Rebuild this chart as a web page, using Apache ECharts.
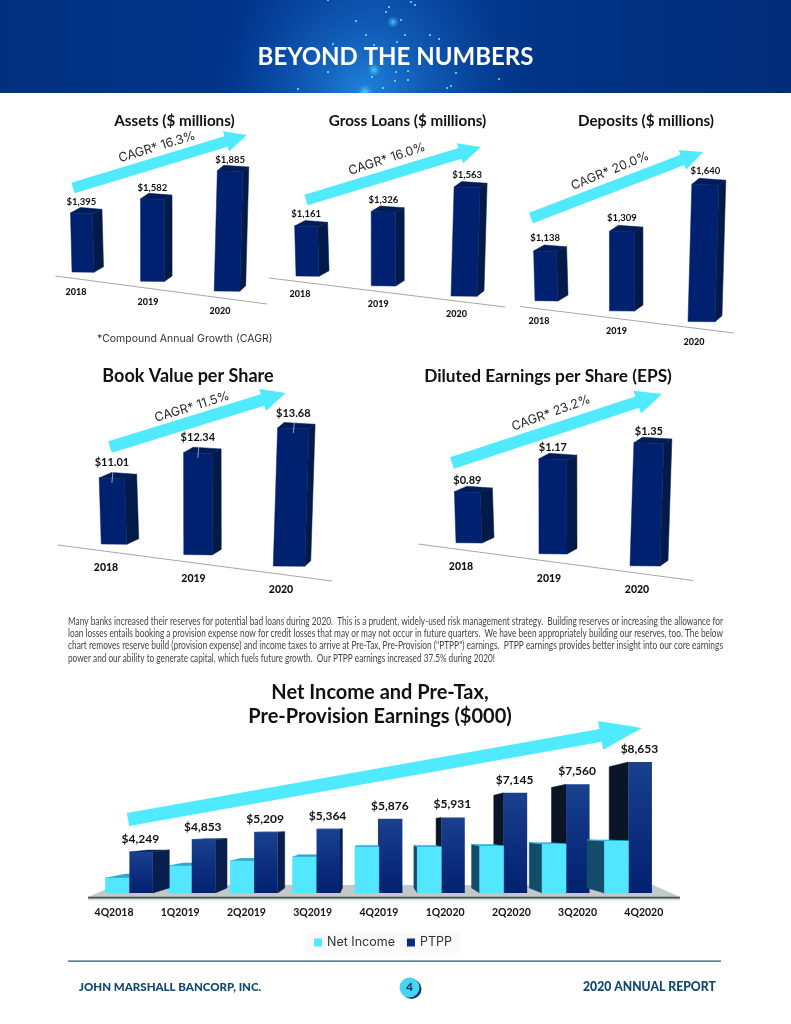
<!DOCTYPE html>
<html><head><meta charset="utf-8">
<style>html,body{margin:0;padding:0;background:#fff}#c{width:791px;height:1024px}</style>
<script src="https://cdn.jsdelivr.net/npm/echarts@6/dist/echarts.min.js"></script>
</head><body><div id="c"></div>
<script>
// ---------- data ----------
const years = ['2018','2019','2020'];
const assets = [1395,1582,1885];
const grossLoans = [1161,1326,1563];
const deposits = [1138,1309,1640];
const bookValue = [11.01,12.34,13.68];
const dilutedEps = [0.89,1.17,1.35];
const quarters = ['4Q2018','1Q2019','2Q2019','3Q2019','4Q2019','1Q2020','2Q2020','3Q2020','4Q2020'];
const netIncome = [2977,3564,3809,4004,4494,4494,4542,4640,4787];
const ptpp = [4249,4853,5209,5364,5876,5931,7145,7560,8653];
const cagrLabels = ['CAGR* 16.3%','CAGR* 16.0%','CAGR* 20.0%','CAGR* 11.5%','CAGR* 23.2%'];
const paragraph = [
 'Many banks increased their reserves for potential bad loans during 2020.  This is a prudent, widely-used risk management strategy.  Building reserves or increasing the allowance for',
 'loan losses entails booking a provision expense now for credit losses that may or may not occur in future quarters.  We have been appropriately building our reserves, too. The below',
 'chart removes reserve build (provision expense) and income taxes to arrive at Pre-Tax, Pre-Provision ("PTPP") earnings.  PTPP earnings provides better insight into our core earnings',
 'power and our ability to generate capital, which fuels future growth.  Our PTPP earnings increased 37.5% during 2020!'
];

// ---------- layout ----------
const FONT = 'Lato';
const NAVY = {front:'#00216F', side:'#021A48', top:'#011D58'};
const CYAN = '#50EAFF';
const dollars = v => '$' + v.toLocaleString('en-US');
const cents = v => '$' + v.toFixed(2);
const panels = [
 {name:'Assets ($ millions)', titleX:174.5, titleY:121, titleSize:15.2, values:assets, fmt:dollars, L:47, W:216, bottom:272, min:923, scale:.125, tilt:.132, bend:-2.5, w:[22,1.8], dx:[9.5,1.8], dy:5.5, gap:6, shift:14, axisFont:9, valFont:9.5, labelUp:11,
  line:[55.5,276,267,304], arrow:[73,188,247,135,11,21,22], cagr:[157,147,17]},
 {name:'Gross Loans ($ millions)', titleX:407.5, titleY:121, titleSize:15.2, values:grossLoans, fmt:dollars, L:268.4, W:234.75, bottom:276, min:821, scale:.147, tilt:.128, bend:-2.25, w:[23,1.5], dx:[10,1.5], dy:5.5, gap:4, shift:15, axisFont:9, valFont:9.5, labelUp:12,
  line:[269,278,505,307], arrow:[306,200,481,147,11,21,22], cagr:[387,159,18]},
 {name:'Deposits ($ millions)', titleX:646, titleY:121, titleSize:15.2, values:deposits, fmt:dollars, L:507.75, W:232.5, bottom:300.7, min:852, scale:.174, tilt:.134, bend:-2, w:[23,2], dx:[10,1.5], dy:6, gap:6, shift:15, axisFont:9, valFont:9.5, labelUp:13,
  line:[520,306.5,734,333], arrow:[531,218,703,152,11,21,22], cagr:[610,171,22]},
 {name:'Book Value per Share', titleX:188, titleY:376, titleSize:18, values:bookValue, fmt:cents, L:70.25, W:262.5, bottom:544, min:8.56, scale:26.97, tilt:.126, bend:-3.5, w:[25.5,3], dx:[12,3], dy:5.5, gap:8, shift:16, axisFont:10.5, valFont:11, labelUp:15, leader:true,
  line:[58,545,332,581], arrow:[110,447,285.5,393,12,23,24], cagr:[192,407,17]},
 {name:'Diluted Earnings per Share (EPS)', titleX:548, titleY:376, titleSize:17.3, values:dilutedEps, fmt:cents, L:425, W:264, bottom:542.7, min:.564, scale:156.5, tilt:.131, bend:-4, w:[26,2], dx:[12,2], dy:5.5, gap:8.5, shift:16, axisFont:10.5, valFont:11, labelUp:11,
  line:[418,544,693,580.5], arrow:[452,463,662,394,12,24,26], cagr:[551,413,20]}
];
const paragraphWidths = [655,655,655,427];
const GRID_H = 140;
const LEAN = .00036;

const bottomGrid = {L:80.9, W:596, bottom:893, min:2243, scale:.02044};
const VP = {x:372, y:826, k:.075, squeeze:.942, center:379, niW:24, ptW:23.5};

// ---------- render functions ----------
const poly = (pts, fill, z2) => ({type:'polygon', z2:z2||0, silent:true, shape:{points:pts},
  style:{fill, stroke:typeof fill==='string'?fill:null, lineWidth:typeof fill==='string'?.5:0}});

function panelRender(p){
  return function(params, api){
    const i = api.value(0), v = api.value(1);
    const base = api.coord([i, p.min]), top = api.coord([i, v]);
    const first = api.coord([0, p.min])[0], mid = api.coord([1, p.min])[0];
    const cx = base[0] + p.bend*(1-(i-1)*(i-1));
    const by = p.bottom + p.tilt*(cx-first);
    const h = base[1]-top[1];
    const tx = cx + LEAN*(cx-mid)*h;
    const w = p.w[0]+p.w[1]*i, dx = p.dx[0]-p.dx[1]*i, dy = p.dy;
    const FL=[tx-w/2,by-h], FR=[tx+w/2,by-h+.8], BR=[cx+w/2,by+.3], BL=[cx-w/2,by];
    const children = [
      poly([FR,[FR[0]+dx,FR[1]-dy+1],[BR[0]+dx,BR[1]-dy],BR], NAVY.side),
      poly([FL,FR,[FR[0]+dx,FR[1]-dy+1],[FL[0]+dx+.5,FL[1]-dy]], NAVY.top),
      poly([FL,FR,BR,BL], NAVY.front),
      {type:'text', silent:true, style:{text:p.fmt(v), x:tx, y:by-h-p.labelUp, align:'center', verticalAlign:'middle', font:'bold '+p.valFont+'px '+FONT, fill:'#111'}}
    ];
    if(p.leader) children.push({type:'line', silent:true, shape:{x1:tx+1,y1:by-h-6,x2:tx,y2:by-h+5}, style:{stroke:'#b9bfc9', lineWidth:.8}});
    return {type:'group', children};
  };
}

const vpPt = q => [q[0]+VP.k*(VP.x-q[0]), q[1]+VP.k*(VP.y-q[1])];
const junction = x => VP.center + (x-VP.center)*VP.squeeze;

function barFaces(left, right, topY, botY, fill, side, topFill, z){
  const FL=[left,topY], FR=[right,topY], BL=[left,botY], BR=[right,botY];
  const out = [];
  if(right < VP.x) out.push(poly([FR,BR,vpPt(BR),vpPt(FR)], side, z));
  if(left > VP.x) out.push(poly([FL,BL,vpPt(BL),vpPt(FL)], side, z));
  if(topY > VP.y) out.push(poly([FL,FR,vpPt(FR),vpPt(FL)], topFill, z));
  out.push(poly([FL,FR,BR,BL], fill, z+1));
  return out;
}
function netRender(params, api){
  const i = api.value(0), v = api.value(1);
  const base = api.coord([i, bottomGrid.min]), top = api.coord([i, v]);
  const j = junction(base[0]);
  const z = j < VP.x ? 0 : 10;
  return {type:'group', children:barFaces(j-VP.niW, j, top[1], base[1], '#52E7FF', '#134C6B', '#2FA6D2', z)};
}
const ptFill = {type:'linear',x:0,y:0,x2:0,y2:1,colorStops:[{offset:0,color:'#1A4090'},{offset:.6,color:'#0B2C7C'},{offset:1,color:'#02226F'}]};
function ptppRender(params, api){
  const i = api.value(0), v = api.value(1);
  const base = api.coord([i, bottomGrid.min]), top = api.coord([i, v]);
  const j = junction(base[0]);
  const z = j < VP.x ? 10 : 0;
  const side = j < VP.x ? '#081E4C' : '#0A1626';
  const kids = barFaces(j, j+VP.ptW, top[1], base[1], ptFill, side, '#0A2A66', z);
  kids.push({type:'text', z2:50, silent:true, style:{text:dollars(v), x:j+11, y:top[1]-13, align:'center', verticalAlign:'middle', font:'bold 12px '+FONT, fill:'#111'}});
  return {type:'group', children:kids};
}

// ---------- graphic helpers ----------
function arrow(a, z){
  const [x0,y0,x1,y1,sw,hw,hl] = a;
  const L = Math.hypot(x1-x0,y1-y0), ux=(x1-x0)/L, uy=(y1-y0)/L, nx=-uy, ny=ux;
  const bx=x1-ux*hl, by=y1-uy*hl;
  return {type:'polygon', z:z||3, silent:true, shape:{points:[
    [x0+nx*sw/2,y0+ny*sw/2],[bx+nx*sw/2,by+ny*sw/2],[bx+nx*hw/2,by+ny*hw/2],[x1,y1],
    [bx-nx*hw/2,by-ny*hw/2],[bx-nx*sw/2,by-ny*sw/2],[x0-nx*sw/2,y0-ny*sw/2]]},
    style:{fill:CYAN}};
}
const dots = [[386,12],[356,21],[401,20],[405,35],[430,35],[439,39],[366,35],[397,42],[333,44],[374,45],[328,72],[396,72],[408,71],[456,73],[499,79],[372,77],[395,81],[408,80],[298,89],[383,88],[447,88],[451,86],[411,2],[415,5],[328,0],[389,7]];
const glows = [[393,22,6],[374,70,7],[365,92,8]];
const PARA_FONT = '11px Lato';
const meas = document.createElement('canvas').getContext('2d');
function fitWidth(text, font, target){ meas.font = font; return target/meas.measureText(text).width; }

const graphics = [
  {type:'rect', z:0, silent:true, shape:{x:0,y:0,width:791,height:93}, style:{fill:{type:'linear',x:0,y:0,x2:1,y2:0,colorStops:[{offset:0,color:'#012F7E'},{offset:.3,color:'#01348A'},{offset:.48,color:'#07479F'},{offset:.7,color:'#013285'},{offset:1,color:'#012C78'}]}}},
  {type:'rect', z:0, silent:true, shape:{x:0,y:0,width:791,height:93}, style:{fill:{type:'radial',x:.46,y:1,r:1.6,colorStops:[{offset:0,color:'rgba(40,150,240,.75)'},{offset:1,color:'rgba(20,90,190,0)'}]}}},
  ...glows.map(g=>({type:'circle', z:1, silent:true, shape:{cx:g[0],cy:g[1],r:g[2]}, style:{fill:{type:'radial',x:.5,y:.5,r:.5,colorStops:[{offset:0,color:'rgba(90,230,255,.8)'},{offset:1,color:'rgba(60,170,240,0)'}]}}})),
  {type:'rect', z:1, silent:true, shape:{x:300,y:93,width:140,height:12}, style:{fill:'#fff'}},
  ...dots.map(d=>({type:'rect', z:1, silent:true, shape:{x:d[0]-.8,y:d[1]-1,width:1.6,height:2}, style:{fill:'#5FF0E0'}})),
  ...panels.map(p=>({type:'line', z:1, silent:true, shape:{x1:p.line[0],y1:p.line[1],x2:p.line[2],y2:p.line[3]}, style:{stroke:'#8d8f92', lineWidth:.8}})),
  ...panels.map(p=>arrow(p.arrow)),
  ...panels.map((p,i)=>({type:'text', z:4, silent:true, x:p.cagr[0], y:p.cagr[1], rotation:p.cagr[2]*Math.PI/180, style:{text:cagrLabels[i], x:0, y:0, align:'center', verticalAlign:'middle', font:'400 12.5px Inter', fill:'#2a2a2a'}})),
  {type:'text', z:4, silent:true, style:{text:'*Compound Annual Growth (CAGR)', x:97, y:339, verticalAlign:'middle', font:'400 10.5px Inter', fill:'#333'}},
  ...paragraph.map((t,i)=>({type:'text', z:4, silent:true, x:68, y:621+i*12.4, scaleX:fitWidth(t,PARA_FONT,paragraphWidths[i]), style:{text:t, x:0, y:0, verticalAlign:'middle', font:PARA_FONT, fill:'#444'}})),
  {type:'polygon', z:0, silent:true, shape:{points:[[88,897],[116,885],[653,885],[680,897]]}, style:{fill:'#C3C9C9'}},
  {type:'rect', z:0, silent:true, shape:{x:88,y:896.8,width:592,height:2}, style:{fill:'#4B5053'}},
  {type:'rect', z:0, silent:true, shape:{x:88,y:898.8,width:592,height:1.5}, style:{fill:'#D5D8D8'}},
  arrow([128,819.5,642,728,13,29,42]),
  {type:'rect', z:1, silent:true, shape:{x:68,y:960.5,width:653,height:1.3}, style:{fill:'#1F5A7E'}},
  {type:'text', z:4, silent:true, style:{text:'JOHN MARSHALL BANCORP, INC.', x:79, y:987.5, verticalAlign:'middle', font:'900 11.5px '+FONT, fill:'#0E4773'}},
  {type:'text', z:4, silent:true, style:{text:'2020 ANNUAL REPORT', x:583, y:987.5, verticalAlign:'middle', font:'900 12.2px '+FONT, fill:'#0E4773'}},
  {type:'circle', z:3, silent:true, shape:{cx:411.5,cy:989,r:10}, style:{fill:'#123E66'}},
  {type:'circle', z:4, silent:true, shape:{cx:409.5,cy:987.5,r:10}, style:{fill:'#46D4F2'}},
  {type:'text', z:5, silent:true, style:{text:'4', x:409.5, y:987.5, align:'center', verticalAlign:'middle', font:'900 12px '+FONT, fill:'#12406C'}}
];

// ---------- option ----------
const grids=[], xAxes=[], yAxes=[], series=[];
panels.forEach((p,k)=>{
  grids.push({left:p.L, width:p.W, top:p.bottom-GRID_H, height:GRID_H});
  const band = p.W/3;
  xAxes.push({type:'category', gridIndex:k, axisLine:{show:false}, axisTick:{show:false}, splitLine:{show:false},
    axisLabel:{interval:0, margin:10, fontFamily:FONT, fontWeight:900, fontSize:p.axisFont, color:'#111'},
    data:years.map((y,i)=>({value:y, textStyle:{padding:[p.gap+p.tilt*band*i,p.shift,0,0]}}))});
  yAxes.push({type:'value', gridIndex:k, show:false, min:p.min, max:p.min+GRID_H/p.scale, splitLine:{show:false}});
  series.push({type:'custom', name:p.name, xAxisIndex:k, yAxisIndex:k, clip:false, encode:{x:0,y:1}, silent:true,
    data:p.values.map((v,i)=>[i,v]), renderItem:panelRender(p)});
});
const bi = panels.length;
grids.push({left:bottomGrid.L, width:bottomGrid.W, top:bottomGrid.bottom-GRID_H, height:GRID_H});
xAxes.push({type:'category', gridIndex:bi, data:quarters, axisLine:{show:false}, axisTick:{show:false}, splitLine:{show:false},
  axisLabel:{interval:0, margin:14.5, fontFamily:FONT, fontWeight:'bold', fontSize:10.5, color:'#111'}});
yAxes.push({type:'value', gridIndex:bi, show:false, min:bottomGrid.min, max:bottomGrid.min+GRID_H/bottomGrid.scale, splitLine:{show:false}});
series.push({type:'custom', name:'Net Income', xAxisIndex:bi, yAxisIndex:bi, clip:false, encode:{x:0,y:1}, silent:true, itemStyle:{color:'#52E7FF'},
  data:netIncome.map((v,i)=>[i,v]), renderItem:netRender});
series.push({type:'custom', name:'PTPP', xAxisIndex:bi, yAxisIndex:bi, clip:false, encode:{x:0,y:1}, silent:true, itemStyle:{color:'#0B2C7C'},
  data:ptpp.map((v,i)=>[i,v]), renderItem:ptppRender});

const titleOf = (text,x,y,size,color) => ({text, left:x, top:y-size*.6, padding:0, textAlign:'center', textStyle:{fontFamily:FONT, fontWeight:'bold', fontSize:size, color:color||'#111', lineHeight:size*1.2}});
const option = {
  animation:false,
  backgroundColor:'#fff',
  title:[
    titleOf('BEYOND THE NUMBERS',395.5,57,24,'#fff'),
    ...panels.map(p=>titleOf(p.name,p.titleX,p.titleY,p.titleSize)),
    {text:'Net Income and Pre-Tax,\nPre-Provision Earnings ($000)', left:380, top:681, padding:0, textAlign:'center', textStyle:{fontFamily:FONT, fontWeight:'bold', fontSize:20, lineHeight:24, color:'#111'}}
  ],
  legend:{data:['Net Income','PTPP'], left:306, top:932, itemWidth:8, itemHeight:8, itemGap:12, icon:'rect', backgroundColor:'#FAFAFA', padding:[4,8,4,8],
    textStyle:{fontFamily:'Inter', fontSize:12.5, color:'#333'}, selectedMode:false},
  grid:grids, xAxis:xAxes, yAxis:yAxes, series,
  graphic:graphics
};
const chart = echarts.init(document.getElementById('c'), null, {renderer:'canvas', width:791, height:1024});
chart.setOption(option);
</script></body></html>
